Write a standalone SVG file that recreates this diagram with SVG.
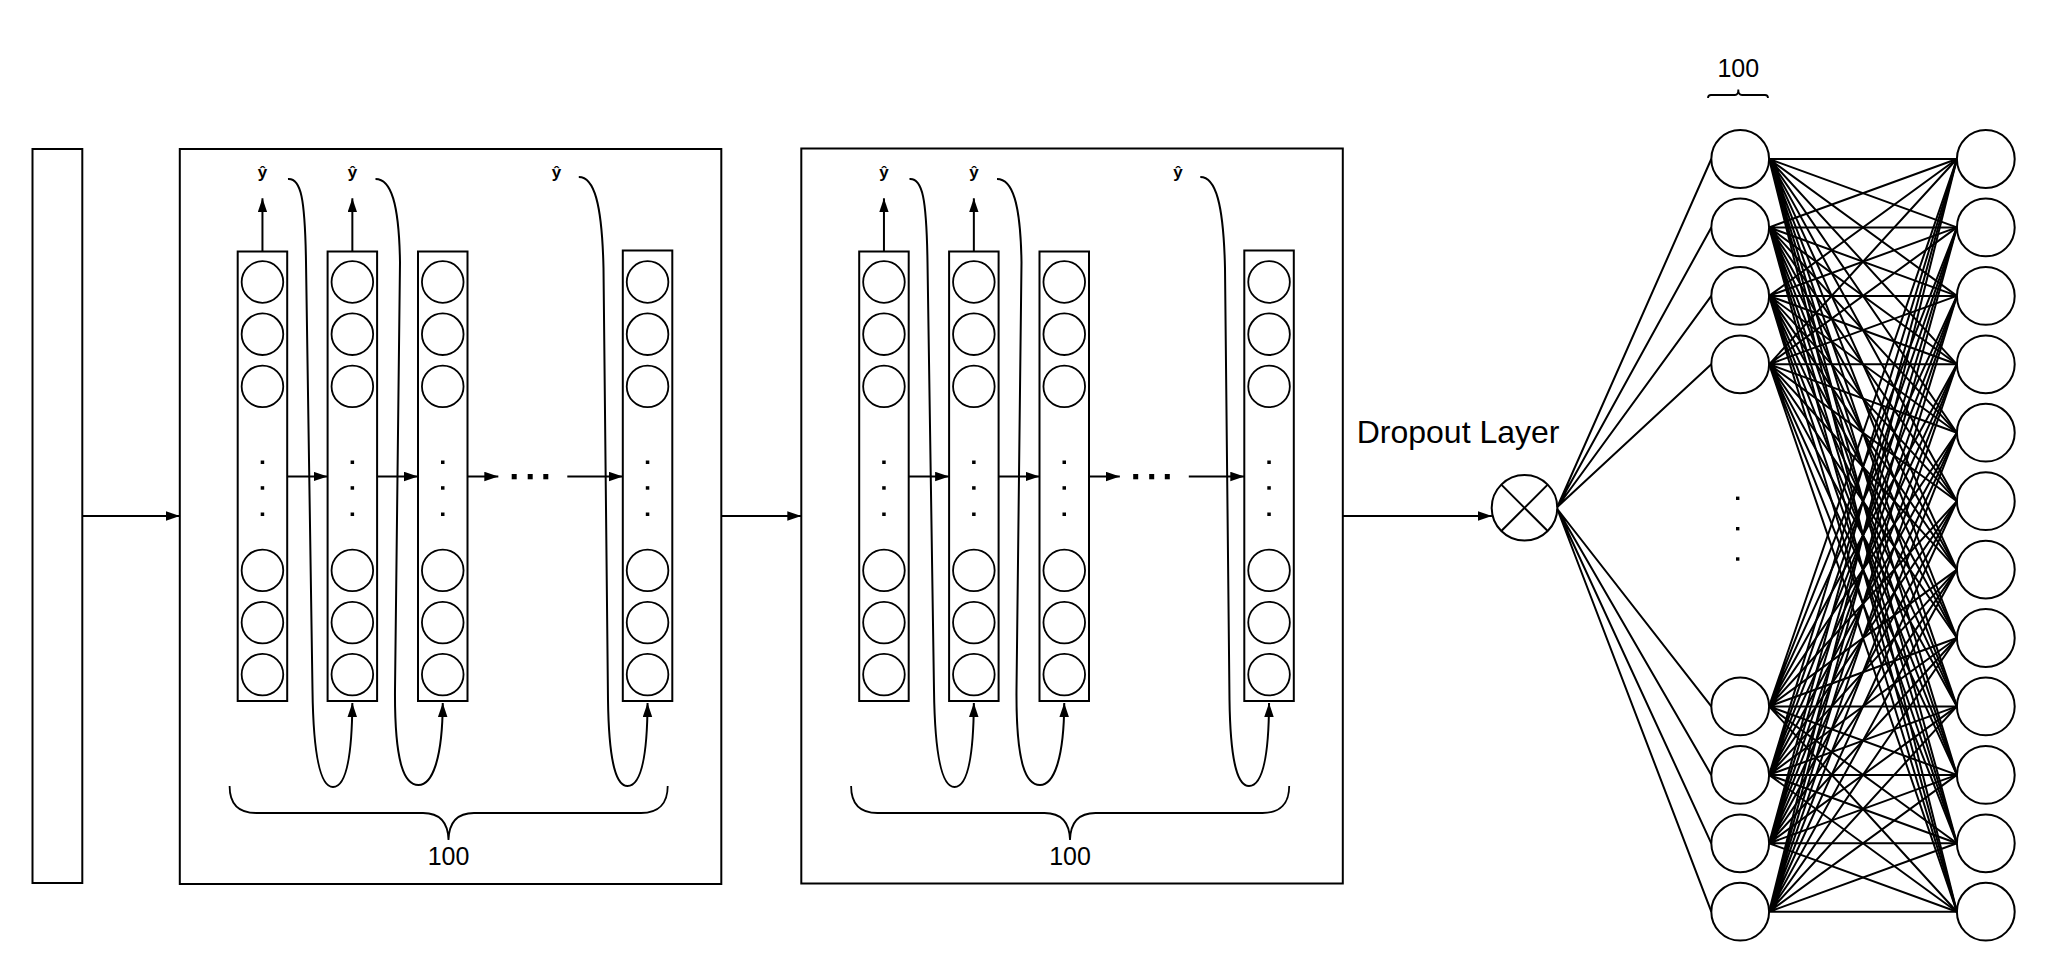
<svg xmlns="http://www.w3.org/2000/svg" width="2048" height="974" viewBox="0 0 2048 974">
<style>
.ln{fill:none;stroke:#000;stroke-width:2}
.bx{fill:none;stroke:#000;stroke-width:2}
.nd{fill:#fff;stroke:#000;stroke-width:2}
.cl{fill:none;stroke:#000;stroke-width:1.8}
.dt{fill:#000}
.tx{font-family:"Liberation Sans",Arial,sans-serif;fill:#000}
.yh{font-family:"Liberation Sans",Arial,sans-serif;font-size:17px;font-weight:bold;text-anchor:middle;fill:#000}
.ar{fill:none;stroke:#000;stroke-width:2;marker-end:url(#ah)}
.wb{fill:none;stroke:#000;stroke-width:1.8}
</style>
<defs>
<marker id="ah" markerUnits="userSpaceOnUse" markerWidth="16" markerHeight="12" refX="14" refY="4.75" orient="auto">
<path d="M0,0 L14,4.75 L0,9.5 z" fill="#000"/>
</marker>
</defs>
<rect width="2048" height="974" fill="#fff"/>

<g id="input-layer">
<rect class="bx" x="32.5" y="149" width="49.8" height="734"/>
</g>

<g id="lstm-layer-1">
<rect class="bx" x="179.8" y="149" width="541.5" height="735"/>
<g id="l1-col1">
<rect class="bx" x="237.7" y="251.5" width="49.5" height="449.5"/>
<circle class="cl" cx="262.45" cy="282" r="20.8"/><circle class="cl" cx="262.45" cy="334.2" r="20.8"/><circle class="cl" cx="262.45" cy="386.4" r="20.8"/>
<circle class="cl" cx="262.45" cy="570.4" r="20.8"/><circle class="cl" cx="262.45" cy="622.6" r="20.8"/><circle class="cl" cx="262.45" cy="674.6" r="20.8"/>
<rect class="dt" x="260.7" y="460.5" width="3.5" height="3.5"/><rect class="dt" x="260.7" y="486.2" width="3.5" height="3.5"/><rect class="dt" x="260.7" y="512.5" width="3.5" height="3.5"/>
</g>
<g id="l1-col2">
<rect class="bx" x="327.6" y="251.5" width="49.5" height="449.5"/>
<circle class="cl" cx="352.35" cy="282" r="20.8"/><circle class="cl" cx="352.35" cy="334.2" r="20.8"/><circle class="cl" cx="352.35" cy="386.4" r="20.8"/>
<circle class="cl" cx="352.35" cy="570.4" r="20.8"/><circle class="cl" cx="352.35" cy="622.6" r="20.8"/><circle class="cl" cx="352.35" cy="674.6" r="20.8"/>
<rect class="dt" x="350.6" y="460.5" width="3.5" height="3.5"/><rect class="dt" x="350.6" y="486.2" width="3.5" height="3.5"/><rect class="dt" x="350.6" y="512.5" width="3.5" height="3.5"/>
</g>
<g id="l1-col3">
<rect class="bx" x="418" y="251.5" width="49.5" height="449.5"/>
<circle class="cl" cx="442.75" cy="282" r="20.8"/><circle class="cl" cx="442.75" cy="334.2" r="20.8"/><circle class="cl" cx="442.75" cy="386.4" r="20.8"/>
<circle class="cl" cx="442.75" cy="570.4" r="20.8"/><circle class="cl" cx="442.75" cy="622.6" r="20.8"/><circle class="cl" cx="442.75" cy="674.6" r="20.8"/>
<rect class="dt" x="441" y="460.5" width="3.5" height="3.5"/><rect class="dt" x="441" y="486.2" width="3.5" height="3.5"/><rect class="dt" x="441" y="512.5" width="3.5" height="3.5"/>
</g>
<g id="l1-col4">
<rect class="bx" x="622.8" y="250.5" width="49.5" height="450.5"/>
<circle class="cl" cx="647.55" cy="282" r="20.8"/><circle class="cl" cx="647.55" cy="334.2" r="20.8"/><circle class="cl" cx="647.55" cy="386.4" r="20.8"/>
<circle class="cl" cx="647.55" cy="570.4" r="20.8"/><circle class="cl" cx="647.55" cy="622.6" r="20.8"/><circle class="cl" cx="647.55" cy="674.6" r="20.8"/>
<rect class="dt" x="645.8" y="460.5" width="3.5" height="3.5"/><rect class="dt" x="645.8" y="486.2" width="3.5" height="3.5"/><rect class="dt" x="645.8" y="512.5" width="3.5" height="3.5"/>
</g>
<g id="l1-ellipsis">
<rect class="dt" x="511.7" y="474" width="5" height="5.3"/><rect class="dt" x="527.7" y="474" width="5" height="5.3"/><rect class="dt" x="543.3" y="474" width="5" height="5.3"/>
</g>
<text class="yh" x="262.4" y="178">ŷ</text>
<text class="yh" x="352.4" y="178">ŷ</text>
<text class="yh" x="556.5" y="178">ŷ</text>
<path class="wb" d="M229.6,786 C229.6,803 238,813 256,813 L423,813 C439,813 448,822 448.5,840 C449,822 458,813 474,813 L641,813 C659,813 667.7,803 667.7,786"/>
<text class="tx" x="448.5" y="865" font-size="25" text-anchor="middle">100</text>
</g>

<g id="lstm-layer-2">
<rect class="bx" x="801.3" y="148.5" width="541.5" height="735"/>
<g transform="translate(621.5,0)">
<g id="l2-col1">
<rect class="bx" x="237.7" y="251.5" width="49.5" height="449.5"/>
<circle class="cl" cx="262.45" cy="282" r="20.8"/><circle class="cl" cx="262.45" cy="334.2" r="20.8"/><circle class="cl" cx="262.45" cy="386.4" r="20.8"/>
<circle class="cl" cx="262.45" cy="570.4" r="20.8"/><circle class="cl" cx="262.45" cy="622.6" r="20.8"/><circle class="cl" cx="262.45" cy="674.6" r="20.8"/>
<rect class="dt" x="260.7" y="460.5" width="3.5" height="3.5"/><rect class="dt" x="260.7" y="486.2" width="3.5" height="3.5"/><rect class="dt" x="260.7" y="512.5" width="3.5" height="3.5"/>
</g>
<g id="l2-col2">
<rect class="bx" x="327.6" y="251.5" width="49.5" height="449.5"/>
<circle class="cl" cx="352.35" cy="282" r="20.8"/><circle class="cl" cx="352.35" cy="334.2" r="20.8"/><circle class="cl" cx="352.35" cy="386.4" r="20.8"/>
<circle class="cl" cx="352.35" cy="570.4" r="20.8"/><circle class="cl" cx="352.35" cy="622.6" r="20.8"/><circle class="cl" cx="352.35" cy="674.6" r="20.8"/>
<rect class="dt" x="350.6" y="460.5" width="3.5" height="3.5"/><rect class="dt" x="350.6" y="486.2" width="3.5" height="3.5"/><rect class="dt" x="350.6" y="512.5" width="3.5" height="3.5"/>
</g>
<g id="l2-col3">
<rect class="bx" x="418" y="251.5" width="49.5" height="449.5"/>
<circle class="cl" cx="442.75" cy="282" r="20.8"/><circle class="cl" cx="442.75" cy="334.2" r="20.8"/><circle class="cl" cx="442.75" cy="386.4" r="20.8"/>
<circle class="cl" cx="442.75" cy="570.4" r="20.8"/><circle class="cl" cx="442.75" cy="622.6" r="20.8"/><circle class="cl" cx="442.75" cy="674.6" r="20.8"/>
<rect class="dt" x="441" y="460.5" width="3.5" height="3.5"/><rect class="dt" x="441" y="486.2" width="3.5" height="3.5"/><rect class="dt" x="441" y="512.5" width="3.5" height="3.5"/>
</g>
<g id="l2-col4">
<rect class="bx" x="622.8" y="250.5" width="49.5" height="450.5"/>
<circle class="cl" cx="647.55" cy="282" r="20.8"/><circle class="cl" cx="647.55" cy="334.2" r="20.8"/><circle class="cl" cx="647.55" cy="386.4" r="20.8"/>
<circle class="cl" cx="647.55" cy="570.4" r="20.8"/><circle class="cl" cx="647.55" cy="622.6" r="20.8"/><circle class="cl" cx="647.55" cy="674.6" r="20.8"/>
<rect class="dt" x="645.8" y="460.5" width="3.5" height="3.5"/><rect class="dt" x="645.8" y="486.2" width="3.5" height="3.5"/><rect class="dt" x="645.8" y="512.5" width="3.5" height="3.5"/>
</g>
<g id="l2-ellipsis">
<rect class="dt" x="511.7" y="474" width="5" height="5.3"/><rect class="dt" x="527.7" y="474" width="5" height="5.3"/><rect class="dt" x="543.3" y="474" width="5" height="5.3"/>
</g>
<text class="yh" x="262.4" y="178">ŷ</text>
<text class="yh" x="352.4" y="178">ŷ</text>
<text class="yh" x="556.5" y="178">ŷ</text>
<path class="wb" d="M229.6,786 C229.6,803 238,813 256,813 L423,813 C439,813 448,822 448.5,840 C449,822 458,813 474,813 L641,813 C659,813 667.7,803 667.7,786"/>
<text class="tx" x="448.5" y="865" font-size="25" text-anchor="middle">100</text>
</g>
</g>

<g id="dropout">
<circle class="nd" cx="1524.5" cy="507.8" r="32.8"/>
<path class="ln" d="M1501.3,484.6 L1547.7,531 M1547.7,484.6 L1501.3,531"/>
<text class="tx" x="1356.7" y="443.3" font-size="32">Dropout Layer</text>
</g>

<g id="dense-layer-1">
<circle class="nd" cx="1740.2" cy="159" r="28.9"/>
<circle class="nd" cx="1740.2" cy="227.4" r="28.9"/>
<circle class="nd" cx="1740.2" cy="295.9" r="28.9"/>
<circle class="nd" cx="1740.2" cy="364.3" r="28.9"/>
<circle class="nd" cx="1740.2" cy="706.4" r="28.9"/>
<circle class="nd" cx="1740.2" cy="774.9" r="28.9"/>
<circle class="nd" cx="1740.2" cy="843.3" r="28.9"/>
<circle class="nd" cx="1740.2" cy="911.7" r="28.9"/>
<rect class="dt" x="1736" y="496.6" width="3.4" height="3.4"/>
<rect class="dt" x="1736" y="527" width="3.4" height="3.4"/>
<rect class="dt" x="1736" y="557.3" width="3.4" height="3.4"/>
<path class="wb" d="M1708,98 C1708,96 1709,95 1711,95 L1735,95 C1737,95 1738.3,93 1738.3,89.5 C1738.3,93 1740,95 1742,95 L1765,95 C1767,95 1768,96 1768,98"/>
<text class="tx" x="1738.3" y="76.7" font-size="25" text-anchor="middle">100</text>
</g>

<g id="dense-layer-2">
<circle class="nd" cx="1985.8" cy="159" r="28.9"/>
<circle class="nd" cx="1985.8" cy="227.4" r="28.9"/>
<circle class="nd" cx="1985.8" cy="295.9" r="28.9"/>
<circle class="nd" cx="1985.8" cy="364.3" r="28.9"/>
<circle class="nd" cx="1985.8" cy="432.7" r="28.9"/>
<circle class="nd" cx="1985.8" cy="501.2" r="28.9"/>
<circle class="nd" cx="1985.8" cy="569.6" r="28.9"/>
<circle class="nd" cx="1985.8" cy="638" r="28.9"/>
<circle class="nd" cx="1985.8" cy="706.4" r="28.9"/>
<circle class="nd" cx="1985.8" cy="774.9" r="28.9"/>
<circle class="nd" cx="1985.8" cy="843.3" r="28.9"/>
<circle class="nd" cx="1985.8" cy="911.7" r="28.9"/>
</g>

<g id="connectors">
<path class="ar" d="M82.3,516 L179.8,516"/>
<path class="ar" d="M721.3,516 L801.3,516"/>
<path class="ar" d="M1342.8,516 L1491.9,516"/>
<g id="l1-connectors">
<path class="ar" d="M262.45,251.5 L262.45,198.3"/>
<path class="ar" d="M352.35,251.5 L352.35,198.3"/>
<path class="ar" d="M287.2,476.5 L327.6,476.5"/>
<path class="ar" d="M377.1,476.5 L418,476.5"/>
<path class="ar" d="M467.5,476.5 L498.3,476.5"/>
<path class="ar" d="M567.3,476.5 L622.8,476.5"/>
<path class="ar" d="M288,179 C301,178 305,198 306,262 L312.5,690 C313.5,768 323,787 333,787 C345,787 352,760 352.35,703"/>
<path class="ar" d="M375.5,179 C391,179 399,203 400,262 L395,690 C394.5,766 405,785 418.5,785 C432,785 442.5,760 442.75,703"/>
<path class="ar" d="M578.8,177 C594,177 602,203 603.5,268 L608,700 C609,770 618,786 627.5,786 C640,786 647.3,760 647.55,703"/>
</g>
<g id="l2-connectors" transform="translate(621.5,0)">
<path class="ar" d="M262.45,251.5 L262.45,198.3"/>
<path class="ar" d="M352.35,251.5 L352.35,198.3"/>
<path class="ar" d="M287.2,476.5 L327.6,476.5"/>
<path class="ar" d="M377.1,476.5 L418,476.5"/>
<path class="ar" d="M467.5,476.5 L498.3,476.5"/>
<path class="ar" d="M567.3,476.5 L622.8,476.5"/>
<path class="ar" d="M288,179 C301,178 305,198 306,262 L312.5,690 C313.5,768 323,787 333,787 C345,787 352,760 352.35,703"/>
<path class="ar" d="M375.5,179 C391,179 399,203 400,262 L395,690 C394.5,766 405,785 418.5,785 C432,785 442.5,760 442.75,703"/>
<path class="ar" d="M578.8,177 C594,177 602,203 603.5,268 L608,700 C609,770 618,786 627.5,786 C640,786 647.3,760 647.55,703"/>
</g>
<path class="ln" d="M1557.3,507 L1711.3,159 M1557.3,507 L1711.3,227.4 M1557.3,507 L1711.3,295.9 M1557.3,507 L1711.3,364.3 M1557.3,509 L1711.3,706.4 M1557.3,509 L1711.3,774.9 M1557.3,509 L1711.3,843.3 M1557.3,509 L1711.3,911.7"/>
<g id="dense-connections" class="ln" stroke-width="1.8">
<path d="M1769.1,159 L1956.9,159 M1769.1,159 L1956.9,227.4 M1769.1,159 L1956.9,295.9 M1769.1,159 L1956.9,364.3 M1769.1,159 L1956.9,432.7 M1769.1,159 L1956.9,501.2 M1769.1,159 L1956.9,569.6 M1769.1,159 L1956.9,638 M1769.1,159 L1956.9,706.4 M1769.1,159 L1956.9,774.9 M1769.1,159 L1956.9,843.3 M1769.1,159 L1956.9,911.7"/>
<path d="M1769.1,227.4 L1956.9,159 M1769.1,227.4 L1956.9,227.4 M1769.1,227.4 L1956.9,295.9 M1769.1,227.4 L1956.9,364.3 M1769.1,227.4 L1956.9,432.7 M1769.1,227.4 L1956.9,501.2 M1769.1,227.4 L1956.9,569.6 M1769.1,227.4 L1956.9,638 M1769.1,227.4 L1956.9,706.4 M1769.1,227.4 L1956.9,774.9 M1769.1,227.4 L1956.9,843.3 M1769.1,227.4 L1956.9,911.7"/>
<path d="M1769.1,295.9 L1956.9,159 M1769.1,295.9 L1956.9,227.4 M1769.1,295.9 L1956.9,295.9 M1769.1,295.9 L1956.9,364.3 M1769.1,295.9 L1956.9,432.7 M1769.1,295.9 L1956.9,501.2 M1769.1,295.9 L1956.9,569.6 M1769.1,295.9 L1956.9,638 M1769.1,295.9 L1956.9,706.4 M1769.1,295.9 L1956.9,774.9 M1769.1,295.9 L1956.9,843.3 M1769.1,295.9 L1956.9,911.7"/>
<path d="M1769.1,364.3 L1956.9,159 M1769.1,364.3 L1956.9,227.4 M1769.1,364.3 L1956.9,295.9 M1769.1,364.3 L1956.9,364.3 M1769.1,364.3 L1956.9,432.7 M1769.1,364.3 L1956.9,501.2 M1769.1,364.3 L1956.9,569.6 M1769.1,364.3 L1956.9,638 M1769.1,364.3 L1956.9,706.4 M1769.1,364.3 L1956.9,774.9 M1769.1,364.3 L1956.9,843.3 M1769.1,364.3 L1956.9,911.7"/>
<path d="M1769.1,706.4 L1956.9,159 M1769.1,706.4 L1956.9,227.4 M1769.1,706.4 L1956.9,295.9 M1769.1,706.4 L1956.9,364.3 M1769.1,706.4 L1956.9,432.7 M1769.1,706.4 L1956.9,501.2 M1769.1,706.4 L1956.9,569.6 M1769.1,706.4 L1956.9,638 M1769.1,706.4 L1956.9,706.4 M1769.1,706.4 L1956.9,774.9 M1769.1,706.4 L1956.9,843.3 M1769.1,706.4 L1956.9,911.7"/>
<path d="M1769.1,774.9 L1956.9,159 M1769.1,774.9 L1956.9,227.4 M1769.1,774.9 L1956.9,295.9 M1769.1,774.9 L1956.9,364.3 M1769.1,774.9 L1956.9,432.7 M1769.1,774.9 L1956.9,501.2 M1769.1,774.9 L1956.9,569.6 M1769.1,774.9 L1956.9,638 M1769.1,774.9 L1956.9,706.4 M1769.1,774.9 L1956.9,774.9 M1769.1,774.9 L1956.9,843.3 M1769.1,774.9 L1956.9,911.7"/>
<path d="M1769.1,843.3 L1956.9,159 M1769.1,843.3 L1956.9,227.4 M1769.1,843.3 L1956.9,295.9 M1769.1,843.3 L1956.9,364.3 M1769.1,843.3 L1956.9,432.7 M1769.1,843.3 L1956.9,501.2 M1769.1,843.3 L1956.9,569.6 M1769.1,843.3 L1956.9,638 M1769.1,843.3 L1956.9,706.4 M1769.1,843.3 L1956.9,774.9 M1769.1,843.3 L1956.9,843.3 M1769.1,843.3 L1956.9,911.7"/>
<path d="M1769.1,911.7 L1956.9,159 M1769.1,911.7 L1956.9,227.4 M1769.1,911.7 L1956.9,295.9 M1769.1,911.7 L1956.9,364.3 M1769.1,911.7 L1956.9,432.7 M1769.1,911.7 L1956.9,501.2 M1769.1,911.7 L1956.9,569.6 M1769.1,911.7 L1956.9,638 M1769.1,911.7 L1956.9,706.4 M1769.1,911.7 L1956.9,774.9 M1769.1,911.7 L1956.9,843.3 M1769.1,911.7 L1956.9,911.7"/>
</g>
</g>
</svg>
